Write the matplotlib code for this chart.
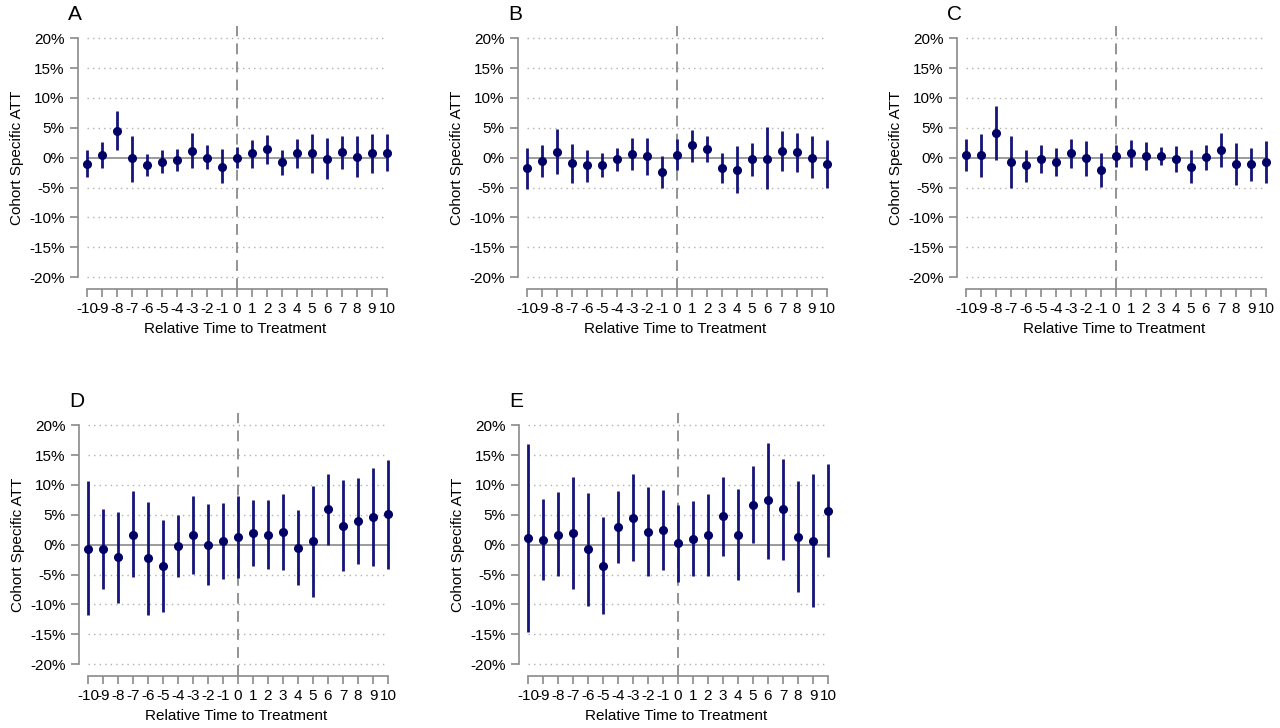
import matplotlib
matplotlib.use("Agg")
import matplotlib.pyplot as plt
import numpy as np

plt.rcParams['font.family'] = ['Liberation Sans', 'DejaVu Sans']

rel_time = list(range(-10, 11))
tick_labels = [str(t) for t in rel_time]
y_ticks = [-20, -15, -10, -5, 0, 5, 10, 15, 20]
y_labels = [f"{t}%" for t in y_ticks]

A_est = [-1.1, 0.4, 4.4, -0.1, -1.2, -0.7, -0.4, 1.1, 0.0, -1.5, 0.0, 0.7, 1.4, -0.8, 0.7, 0.7, -0.2, 1.0, 0.1, 0.7, 0.7]
A_hi = [1.2, 2.7, 7.8, 3.6, 0.6, 1.2, 1.4, 4.2, 2.1, 1.4, 1.8, 3.0, 3.8, 1.2, 3.2, 3.9, 3.3, 3.7, 3.6, 4.0, 3.9]
A_lo = [-3.2, -1.8, 1.2, -4.0, -3.1, -2.6, -2.2, -1.8, -1.9, -4.3, -1.8, -1.8, -1.0, -2.9, -1.7, -2.5, -3.6, -1.9, -3.3, -2.6, -2.3]

B_est = [-1.8, -0.6, 1.0, -0.9, -1.3, -1.3, -0.3, 0.6, 0.3, -2.4, 0.4, 2.1, 1.5, -1.8, -2.0, -0.2, -0.2, 1.1, 0.9, 0.0, -1.0]
B_hi = [1.7, 2.2, 4.8, 2.3, 1.3, 0.7, 1.7, 3.3, 3.3, 0.3, 3.1, 4.7, 3.7, 0.8, 2.0, 2.5, 5.2, 4.5, 4.1, 3.6, 2.9]
B_lo = [-5.2, -3.3, -2.8, -4.3, -4.0, -3.3, -2.2, -2.1, -2.9, -5.1, -2.1, -0.7, -0.7, -4.3, -5.9, -3.1, -5.3, -2.3, -2.4, -3.4, -5.1]

C_est = [0.4, 0.4, 4.1, -0.7, -1.3, -0.2, -0.7, 0.7, -0.1, -2.1, 0.3, 0.7, 0.2, 0.3, -0.2, -1.6, 0.1, 1.3, -1.1, -1.1, -0.7]
C_hi = [3.1, 3.9, 8.6, 3.6, 1.3, 2.1, 1.7, 3.2, 2.8, 0.8, 2.2, 2.9, 2.6, 1.8, 1.9, 1.3, 2.2, 4.2, 2.5, 1.7, 2.8]
C_lo = [-2.3, -3.2, -0.4, -5.0, -4.0, -2.5, -3.1, -1.7, -3.1, -4.9, -1.6, -1.6, -2.1, -1.3, -2.4, -4.3, -2.1, -1.6, -4.6, -3.9, -4.2]

D_est = [-0.7, -0.8, -2.1, 1.7, -2.3, -3.6, -0.3, 1.7, 0.0, 0.6, 1.3, 2.0, 1.7, 2.2, -0.6, 0.6, 5.9, 3.1, 3.9, 4.6, 5.1]
D_hi = [10.6, 5.9, 5.5, 9.0, 7.1, 4.1, 4.9, 8.2, 6.8, 7.0, 8.1, 7.5, 7.5, 8.5, 5.8, 9.9, 11.9, 10.8, 11.2, 12.9, 14.2]
D_lo = [-11.8, -7.5, -9.8, -5.4, -11.7, -11.2, -5.4, -4.9, -6.8, -5.8, -5.6, -3.6, -4.1, -4.3, -6.8, -8.8, 0.0, -4.4, -3.2, -3.6, -4.0]

E_est = [1.1, 0.7, 1.6, 2.0, -0.8, -3.6, 2.9, 4.5, 2.1, 2.5, 0.2, 1.0, 1.6, 4.8, 1.6, 6.7, 7.4, 5.9, 1.3, 0.6, 5.7]
E_hi = [16.9, 7.6, 8.8, 11.4, 8.7, 4.6, 9.0, 11.9, 9.6, 9.2, 6.6, 7.3, 8.5, 11.4, 9.3, 13.1, 17.0, 14.3, 10.6, 11.8, 13.5]
E_lo = [-14.6, -6.0, -5.3, -7.4, -10.2, -11.6, -3.1, -2.8, -5.2, -4.2, -6.3, -5.2, -5.3, -1.9, -6.0, 0.3, -2.4, -2.5, -8.0, -10.5, -2.1]

panels = [("A", A_est, A_lo, A_hi), ("B", B_est, B_lo, B_hi), ("C", C_est, C_lo, C_hi),
          ("D", D_est, D_lo, D_hi), ("E", E_est, E_lo, E_hi)]

W, H = 1280, 728
fig = plt.figure(figsize=(12.8, 7.28), dpi=100)
lefts = [78, 518, 957, 79, 519]
bottoms = [289, 289, 289, 676, 676]
navy = "#14147a"
gray = "#8a8a8a"
ylo, yhi = -22, 22
xlo, xhi = -10.6, 10.4
ppu_y = 5.97
ppu_x = 15.0

for (name, est, lo, hi), l, b in zip(panels, lefts, bottoms):
    w = (xhi - xlo) * ppu_x
    h = (yhi - ylo) * ppu_y
    ax = fig.add_axes([l / W, 1 - b / H, w / W, h / H])
    ax.set_xlim(xlo, xhi)
    ax.set_ylim(ylo, yhi)
    for yt in y_ticks:
        if yt != 0:
            ax.hlines(yt, -10, 10, colors="#b0b0b0", linestyles=(0, (1, 3)), lw=1.0)
    ax.hlines(0, -10, 10, colors=gray, lw=1.2)
    ax.vlines(0, ylo, yhi, colors=gray, linestyles=(0, (6, 4)), lw=1.3)
    ax.vlines(rel_time, lo, hi, colors=navy, lw=2.0, zorder=3)
    ax.plot(rel_time, est, "o", color="#000066", ms=5.5, zorder=4)
    for s in ["top", "right"]:
        ax.spines[s].set_visible(False)
    ax.spines["left"].set_bounds(-20, 20)
    ax.spines["bottom"].set_bounds(-10, 10)
    for s in ["left", "bottom"]:
        ax.spines[s].set_color(gray)
        ax.spines[s].set_linewidth(1.2)
    ax.set_yticks(y_ticks)
    ax.set_yticklabels(y_labels, fontsize=11)
    ax.set_xticks(rel_time)
    ax.set_xticklabels(tick_labels, fontsize=11)
    ax.tick_params(colors=gray, labelcolor="black", width=1.2, length=6)
    ax.set_ylabel("Cohort Specific ATT", fontsize=11)
    ax.set_xlabel("Relative Time to Treatment", fontsize=11, labelpad=4)
    fig.text((l - 10) / W, 1 - (b - 275) / H, name, fontsize=15, ha="left", va="center")

fig.savefig("out.png", dpi=100)
